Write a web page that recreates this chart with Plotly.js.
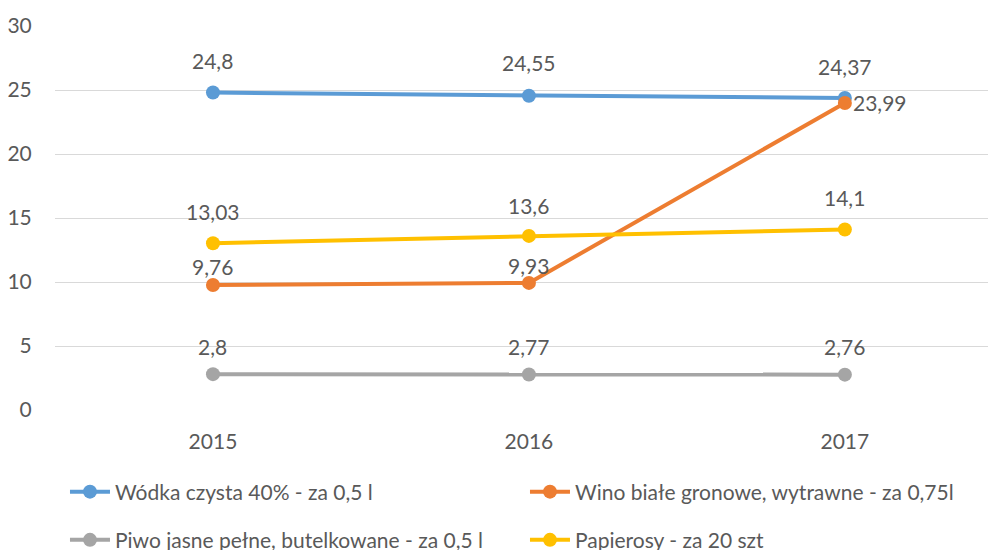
<!DOCTYPE html>
<html>
<head>
<meta charset="utf-8">
<script src="https://cdn.plot.ly/plotly-3.0.1.min.js"></script>
<style>html,body{margin:0;padding:0;background:#fff;}#chart{width:988px;height:550px;}</style>
</head>
<body>
<div id="chart"></div>
<script>
const years = ['2015', '2016', '2017'];
const seriesNames = [
  'Wódka czysta 40% - za 0,5 l',
  'Wino białe gronowe, wytrawne - za 0,75l',
  'Piwo jasne pełne, butelkowane - za 0,5 l',
  'Papierosy - za 20 szt'
];
const wodka = [24.8, 24.55, 24.37];
const wino = [9.76, 9.93, 23.99];
const piwo = [2.8, 2.77, 2.76];
const papierosy = [13.03, 13.6, 14.1];
const yTicks = [0, 5, 10, 15, 20, 25, 30];

const allValues = [wodka, wino, piwo, papierosy];
const colors = ['#5B9BD5', '#ED7D31', '#A5A5A5', '#FFC000'];
const legendIds = ['legend', 'legend', 'legend2', 'legend2'];
// label offsets (px) per series per point: [xshift, yshift]
const labelShift = [
  [[0, 32], [0, 33], [0, 32]],
  [[0, 19], [0, 17], [35, 0]],
  [[0, 28], [0, 28], [0, 28]],
  [[0, 32], [0, 30], [0, 32]]
];
const fontFam = 'Lato, "Open Sans", sans-serif';
const txtColor = '#595959';

const xIdx = years.map((_, i) => i);
const fmt = v => String(v).replace('.', ',');

const traces = allValues.map((vals, s) => ({
  x: xIdx,
  y: vals,
  name: seriesNames[s],
  type: 'scatter',
  mode: 'lines+markers',
  line: {color: colors[s], width: 4},
  marker: {color: colors[s], size: 14},
  legend: legendIds[s],
  hoverinfo: 'skip'
}));

const annotations = [];
allValues.forEach((vals, s) => {
  vals.forEach((v, i) => {
    annotations.push({
      x: xIdx[i], y: v, xref: 'x', yref: 'y',
      text: fmt(v), showarrow: false,
      xshift: labelShift[s][i][0], yshift: labelShift[s][i][1],
      font: {family: fontFam, size: 21, color: txtColor}
    });
  });
});

const legendBase = {
  orientation: 'h', x: 0.0107, xanchor: 'left', yanchor: 'middle',
  xref: 'paper', yref: 'paper',
  font: {family: fontFam, size: 21, color: txtColor},
  entrywidth: 405, entrywidthmode: 'pixels', itemwidth: 40,
  bgcolor: 'rgba(0,0,0,0)'
};

const layout = {
  width: 988, height: 550,
  margin: {l: 55, r: 0, t: 26, b: 140, autoexpand: false},
  paper_bgcolor: '#fff', plot_bgcolor: '#fff',
  xaxis: {
    range: [-0.5, 2.453],
    tickvals: xIdx, ticktext: years,
    showgrid: false, zeroline: false, showline: false,
    ticks: 'outside', ticklen: 13, tickcolor: 'rgba(0,0,0,0)',
    tickfont: {family: fontFam, size: 21, color: txtColor},
    fixedrange: true
  },
  yaxis: {
    range: [0, 30],
    tickvals: yTicks,
    showgrid: true, gridcolor: '#D9D9D9', gridwidth: 1,
    zeroline: false, showline: false,
    ticks: 'outside', ticklen: 18, tickcolor: 'rgba(0,0,0,0)',
    tickfont: {family: fontFam, size: 21, color: txtColor},
    fixedrange: true
  },
  showlegend: true,
  legend: Object.assign({}, legendBase, {y: -0.2135}),
  legend2: Object.assign({}, legendBase, {y: -0.339}),
  annotations: annotations
};

Plotly.newPlot('chart', traces, layout, {displayModeBar: false, staticPlot: true});
</script>
</body>
</html>
